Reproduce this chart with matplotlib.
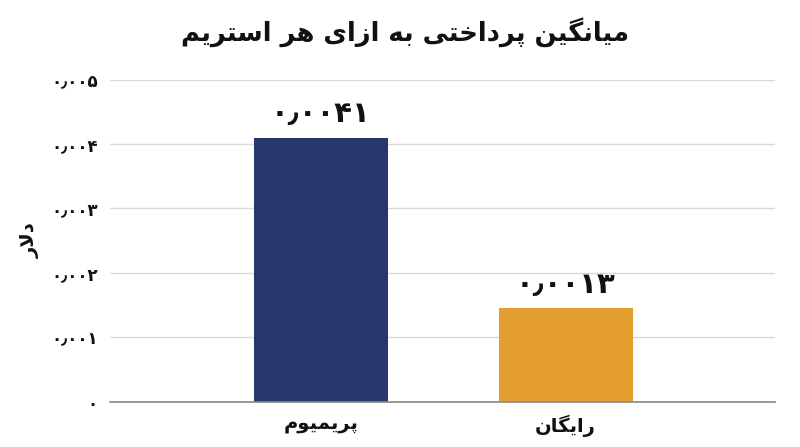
import matplotlib
matplotlib.use("Agg")
import matplotlib.pyplot as plt

# ---- data ----
title_text = "میانگین پرداختی به ازای هر استریم"
ylabel_text = "دلار"
categories = ["پریمیوم", "رایگان"]
values = [0.0041, 0.00145]
value_labels = ["۰٫۰۰۴۱", "۰٫۰۰۱۳"]
yticks = [0, 0.001, 0.002, 0.003, 0.004, 0.005]
ytick_labels = ["۰", "۰٫۰۰۱", "۰٫۰۰۲", "۰٫۰۰۳", "۰٫۰۰۴", "۰٫۰۰۵"]
colors = ["#27376b", "#e39e2e"]

# ---- minimal Arabic/Persian shaping (matplotlib has no shaping engine) ----
FORMS = {
    'ا': ('\uFE8D', '\uFE8E', None, None),
    'ب': ('\uFE8F', '\uFE90', '\uFE91', '\uFE92'),
    'ت': ('\uFE95', '\uFE96', '\uFE97', '\uFE98'),
    'خ': ('\uFEA5', '\uFEA6', '\uFEA7', '\uFEA8'),
    'د': ('\uFEA9', '\uFEAA', None, None),
    'ر': ('\uFEAD', '\uFEAE', None, None),
    'ز': ('\uFEAF', '\uFEB0', None, None),
    'س': ('\uFEB1', '\uFEB2', '\uFEB3', '\uFEB4'),
    'ل': ('\uFEDD', '\uFEDE', '\uFEDF', '\uFEE0'),
    'م': ('\uFEE1', '\uFEE2', '\uFEE3', '\uFEE4'),
    'ن': ('\uFEE5', '\uFEE6', '\uFEE7', '\uFEE8'),
    'ه': ('\uFEE9', '\uFEEA', '\uFEEB', '\uFEEC'),
    'و': ('\uFEED', '\uFEEE', None, None),
    'ی': ('\uFBFC', '\uFBFD', '\uFBFE', '\uFBFF'),
    'پ': ('\uFB56', '\uFB57', '\uFB58', '\uFB59'),
    'گ': ('\uFB92', '\uFB93', '\uFB94', '\uFB95'),
}


def dual(c):
    return c in FORMS and FORMS[c][2] is not None


def shape(s):
    out = []
    i = 0
    n = len(s)
    while i < n:
        c = s[i]
        if c not in FORMS:
            out.append(c)
            i += 1
            continue
        prev = s[i - 1] if i > 0 else ''
        joins_prev = dual(prev)
        if c == 'ل' and i + 1 < n and s[i + 1] == 'ا':
            out.append('\uFEFC' if joins_prev else '\uFEFB')
            i += 2
            continue
        nxt = s[i + 1] if i + 1 < n else ''
        joins_next = dual(c) and nxt in FORMS
        iso, fin, ini, med = FORMS[c]
        if joins_prev and joins_next:
            g = med
        elif joins_prev:
            g = fin
        elif joins_next:
            g = ini
        else:
            g = iso
        out.append(g)
        i += 1
    return ''.join(reversed(out))


FONT = ['DejaVu Sans']
plt.rcParams['font.family'] = FONT

fig = plt.figure(figsize=(8, 4.47), dpi=100)
ax = fig.add_axes([0.1375, 0.1013, 0.83125, 0.7208])

x = list(range(len(categories)))
ax.bar(x, values, width=0.547, color=colors, zorder=3)
for xi, v, lab in zip(x, values, value_labels):
    ax.text(xi, v + 0.00015, lab, ha='center', va='bottom',
            fontsize=21, fontweight='bold', color='#111111')

ax.set_xlim(-0.86, 1.855)
ax.set_ylim(0, 0.005)
ax.set_yticks(yticks)
ax.set_yticklabels(ytick_labels, fontsize=12, fontweight='bold', color='#111111')
ax.set_xticks(x)
ax.set_xticklabels([shape(c) for c in categories], fontsize=14,
                   fontweight='bold', color='#111111')
ax.tick_params(axis='both', length=0)
ax.tick_params(axis='y', pad=9)
ax.tick_params(axis='x', pad=9)

ax.grid(axis='y', color='#d9d9d9', linewidth=1, zorder=0)
ax.set_axisbelow(True)
for sp in ['top', 'right', 'left']:
    ax.spines[sp].set_visible(False)
ax.spines['bottom'].set_color('#888888')
ax.spines['bottom'].set_linewidth(1.2)
ax.spines['bottom'].set_zorder(4)

ax.set_ylabel(shape(ylabel_text), fontsize=14, fontweight='bold',
              color='#111111', labelpad=8)

fig.text(0.506, 0.928, shape(title_text), ha='center', va='center',
         fontsize=18.5, fontweight='bold', color='#111111')

fig.savefig('out.png', dpi=100, facecolor='white')
